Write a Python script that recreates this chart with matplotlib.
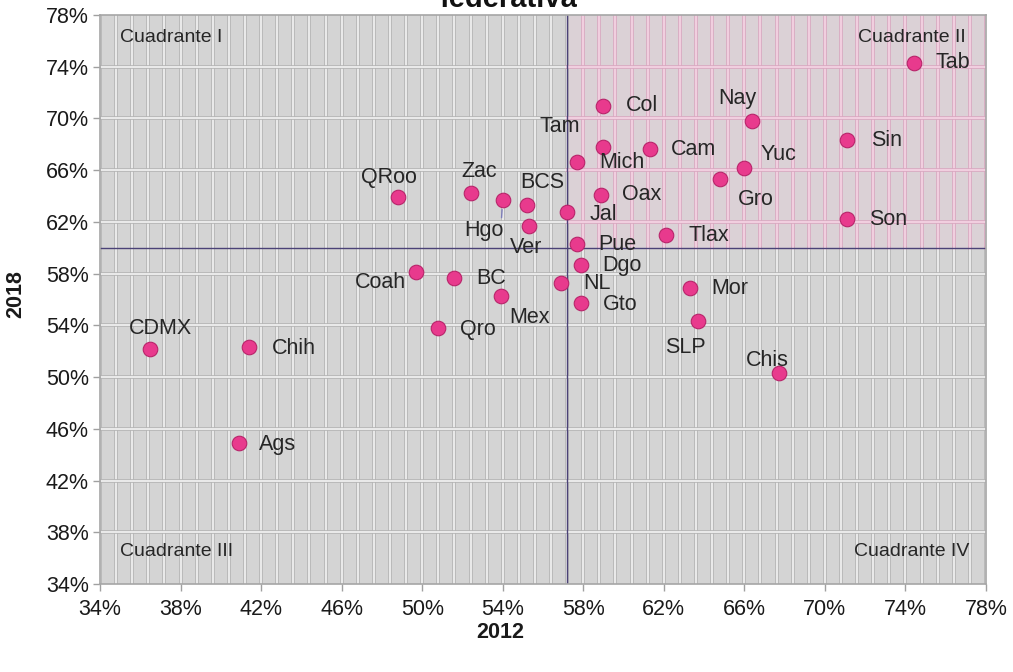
import matplotlib
matplotlib.use("Agg")
import matplotlib.pyplot as plt
from matplotlib.ticker import FuncFormatter
import numpy as np

plt.rcParams['font.family'] = ['Liberation Sans', 'DejaVu Sans']

# ---- data ----
states = ['Tab', 'Col', 'Nay', 'Sin', 'Tam', 'Cam', 'Mich', 'Yuc', 'Gro', 'Oax',
          'QRoo', 'Zac', 'Hgo', 'BCS', 'Jal', 'Son', 'Ver', 'Tlax', 'Pue', 'Dgo',
          'Coah', 'BC', 'NL', 'Mex', 'Mor', 'Gto', 'SLP', 'Qro', 'CDMX', 'Chih',
          'Chis', 'Ags']
x2012 = [74.4, 59.0, 66.4, 71.1, 59.0, 61.3, 57.7, 66.0, 64.8, 58.9,
         48.8, 52.4, 54.0, 55.2, 57.2, 71.1, 55.3, 62.1, 57.7, 57.9,
         49.7, 51.6, 56.9, 53.9, 63.3, 57.9, 63.7, 50.8, 36.5, 41.4,
         67.7, 40.9]
y2018 = [74.3, 71.0, 69.8, 68.3, 67.8, 67.6, 66.6, 66.2, 65.3, 64.1,
         63.9, 64.2, 63.7, 63.3, 62.8, 62.2, 61.7, 61.0, 60.3, 58.7,
         58.1, 57.7, 57.3, 56.3, 56.9, 55.7, 54.3, 53.8, 52.2, 52.3,
         50.3, 44.9]
tick_values = [34, 38, 42, 46, 50, 54, 58, 62, 66, 70, 74, 78]
x_split = 57.2
y_split = 60.0
quadrant_names = ['Cuadrante I', 'Cuadrante II', 'Cuadrante III', 'Cuadrante IV']
title_text = 'federativa'
x_label = '2012'
y_label = '2018'

# label placement (pixel offsets from point; image y downward) and alignment
label_pos = {
    'Tab': (22, 0, 'left'), 'Col': (22, 0, 'left'), 'Nay': (-15, -23, 'center'),
    'Sin': (24, 0, 'left'), 'Tam': (-44, -20, 'center'), 'Cam': (21, 0, 'left'),
    'Mich': (22, 0, 'left'), 'Yuc': (16, -13, 'left'), 'Gro': (18, 20, 'left'),
    'Oax': (21, 0, 'left'), 'QRoo': (-9, -20, 'center'), 'Zac': (9, -22, 'center'),
    'Hgo': (-19, 31, 'center'), 'BCS': (15, -23, 'center'), 'Jal': (22, 3, 'left'),
    'Son': (22, 0, 'left'), 'Ver': (-3, 22, 'center'), 'Tlax': (23, 1, 'left'),
    'Pue': (21, 1, 'left'), 'Dgo': (21, 1, 'left'), 'Coah': (-36, 10, 'center'),
    'BC': (22, 1, 'left'), 'NL': (22, 1, 'left'), 'Mex': (29, 22, 'center'),
    'Mor': (21, 1, 'left'), 'Gto': (22, 1, 'left'), 'SLP': (-13, 26, 'center'),
    'Qro': (22, 2, 'left'), 'CDMX': (10, -20, 'center'), 'Chih': (23, 1, 'left'),
    'Chis': (-11, -13, 'center'), 'Ags': (20, 1, 'left'),
}

W, H = 1013, 672
fig = plt.figure(figsize=(W / 100, H / 100), dpi=100)
ax = fig.add_axes([100 / W, 1 - 584 / H, 886 / W, 569 / H])

lo, hi = tick_values[0], tick_values[-1]
ax.set_xlim(lo, hi)
ax.set_ylim(lo, hi)
ax.set_facecolor('#d4d4d4')

# pink tinted quadrant II
ax.add_patch(plt.Rectangle((x_split, y_split), hi - x_split, hi - y_split,
                           facecolor='#dbd1d6', edgecolor='none', zorder=0.5))

# embossed grid lines
vx = np.arange(lo, hi + 0.01, 0.8)
hy = tick_values[1:-1]
grey_under, grey_over = '#b4b4b4', '#f4f4f4'
pink_under, pink_over = '#d9a8c0', '#f6d6e6'
for x in vx:
    if x <= x_split:
        ax.plot([x, x], [lo, hi], color=grey_under, lw=2.6, zorder=1)
        ax.plot([x, x], [lo, hi], color=grey_over, lw=1.2, zorder=1.1)
    else:
        ax.plot([x, x], [lo, y_split], color=grey_under, lw=2.6, zorder=1)
        ax.plot([x, x], [lo, y_split], color=grey_over, lw=1.2, zorder=1.1)
        ax.plot([x, x], [y_split, hi], color=pink_under, lw=2.6, zorder=1)
        ax.plot([x, x], [y_split, hi], color=pink_over, lw=1.2, zorder=1.1)
for y in hy:
    if y < y_split:
        ax.plot([lo, hi], [y, y], color=grey_under, lw=2.6, zorder=1.2)
        ax.plot([lo, hi], [y, y], color=grey_over, lw=1.2, zorder=1.3)
    else:
        ax.plot([lo, x_split], [y, y], color=grey_under, lw=2.6, zorder=1.2)
        ax.plot([lo, x_split], [y, y], color=grey_over, lw=1.2, zorder=1.3)
        ax.plot([x_split, hi], [y, y], color=pink_under, lw=2.6, zorder=1.2)
        ax.plot([x_split, hi], [y, y], color=pink_over, lw=1.2, zorder=1.3)

# quadrant split lines
ax.axvline(x_split, color='#4b4277', lw=1.0, zorder=2)
ax.axhline(y_split, color='#4b4277', lw=1.0, zorder=2)

# points
ax.scatter(x2012, y2018, s=110, facecolor='#e83a8d', edgecolor='#b8246a',
           linewidth=0.8, zorder=4)

for name, x, y in zip(states, x2012, y2018):
    dx, dy, ha = label_pos[name]
    if name == 'Hgo':
        ax.annotate(name, (x, y), xytext=(dx, -dy), textcoords='offset pixels',
                    ha=ha, va='center', fontsize=15.5, color='#262626', zorder=5,
                    arrowprops=dict(arrowstyle='-', color='#7c7cb8', lw=1,
                                    shrinkA=0, shrinkB=7,
                                    relpos=(0.95, 1.05)))
    else:
        ax.annotate(name, (x, y), xytext=(dx, -dy), textcoords='offset pixels',
                    ha=ha, va='center', fontsize=15.5, color='#262626', zorder=5)

# quadrant labels
qkw = dict(fontsize=14, color='#262626', transform=ax.transAxes, va='center')
ax.text(20 / 886, 1 - 23 / 569, quadrant_names[0], ha='left', **qkw)
ax.text(1 - 20 / 886, 1 - 23 / 569, quadrant_names[1], ha='right', **qkw)
ax.text(20 / 886, 32 / 569, quadrant_names[2], ha='left', **qkw)
ax.text(1 - 17 / 886, 32 / 569, quadrant_names[3], ha='right', **qkw)

# axes styling
ax.set_xticks(tick_values)
ax.set_yticks(tick_values)
fmt = FuncFormatter(lambda v, p: f'{v:.0f}%')
ax.xaxis.set_major_formatter(fmt)
ax.yaxis.set_major_formatter(fmt)
ax.tick_params(axis='both', direction='out', length=5, width=1, color='#a0a0a0',
               labelsize=15.5, labelcolor='#1a1a1a')
ax.tick_params(axis='x', pad=6)
ax.tick_params(axis='y', pad=3)
for sp in ax.spines.values():
    sp.set_color('#a6a6a6')
    sp.set_linewidth(1.2)
    sp.set_zorder(3)

fig.text(500 / W, 1 - 632 / H, x_label, ha='center', va='center',
         fontsize=15.5, fontweight='bold', color='#1a1a1a')
fig.text(16 / W, 1 - 294 / H, y_label, ha='center', va='center', rotation=90,
         fontsize=15.5, fontweight='bold', color='#1a1a1a')
fig.text(508 / W, 1 - 7 / H, title_text, ha='center', va='baseline',
         fontsize=21, fontweight='bold', color='#111111')

fig.savefig('out.png', dpi=100)
